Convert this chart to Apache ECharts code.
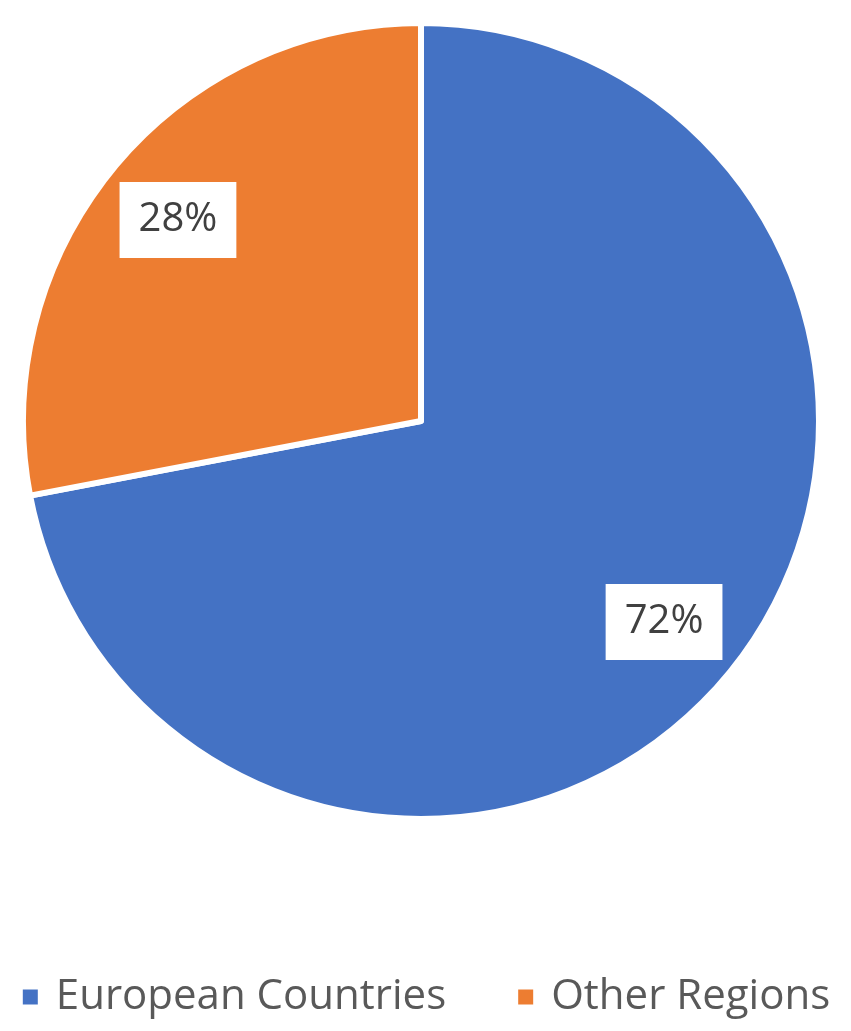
<!DOCTYPE html>
<html>
<head>
<meta charset="utf-8">
<script src="https://cdn.jsdelivr.net/npm/echarts@6/dist/echarts.min.js"></script>
<style>
  html, body { margin: 0; padding: 0; background: #fff; }
  #main { width: 851px; height: 1031px; }
</style>
</head>
<body>
<div id="main"></div>
<script>
// data
const regions = ['European Countries', 'Other Regions'];
const shares = [72, 28];
const colors = ['#4472C4', '#ED7D31'];

const chart = echarts.init(document.getElementById('main'));

const pieData = regions.map(function (name, i) {
  return { name: name, value: shares[i], itemStyle: { color: colors[i] } };
});

const center = [421, 421];
const R = 398;

const option = {
  backgroundColor: '#fff',
  animation: false,
  legend: {
    data: regions,
    bottom: 8,
    left: 'center',
    icon: 'rect',
    itemWidth: 17,
    itemHeight: 17,
    itemGap: 70,
    textStyle: {
      fontFamily: 'Open Sans',
      fontSize: 42,
      color: '#595959',
      padding: [0, 0, 0, 12]
    }
  },
  series: [{
    // the pie itself
    type: 'pie',
    center: center,
    radius: [0, R],
    startAngle: 90,
    clockwise: true,
    label: { show: false },
    labelLine: { show: false },
    itemStyle: { borderColor: '#fff', borderWidth: 6 },
    emphasis: { disabled: true },
    data: pieData
  }, {
    // invisible ring, only used to place the labels near the rim
    type: 'pie',
    center: center,
    radius: [R * 0.57, R],
    startAngle: 90,
    clockwise: true,
    silent: true,
    legendHoverLink: false,
    itemStyle: { color: 'transparent', borderWidth: 0 },
    label: {
      show: true,
      position: 'inside',
      formatter: '{d}%',
      fontFamily: 'Open Sans',
      fontSize: 40,
      color: '#404040',
      backgroundColor: '#fff',
      lineHeight: 40,
      padding: [18, 19]
    },
    labelLine: { show: false },
    emphasis: { disabled: true },
    data: regions.map(function (name, i) { return { name: name + ' ', value: shares[i] }; })
  }]
};

chart.setOption(option);
</script>
</body>
</html>
